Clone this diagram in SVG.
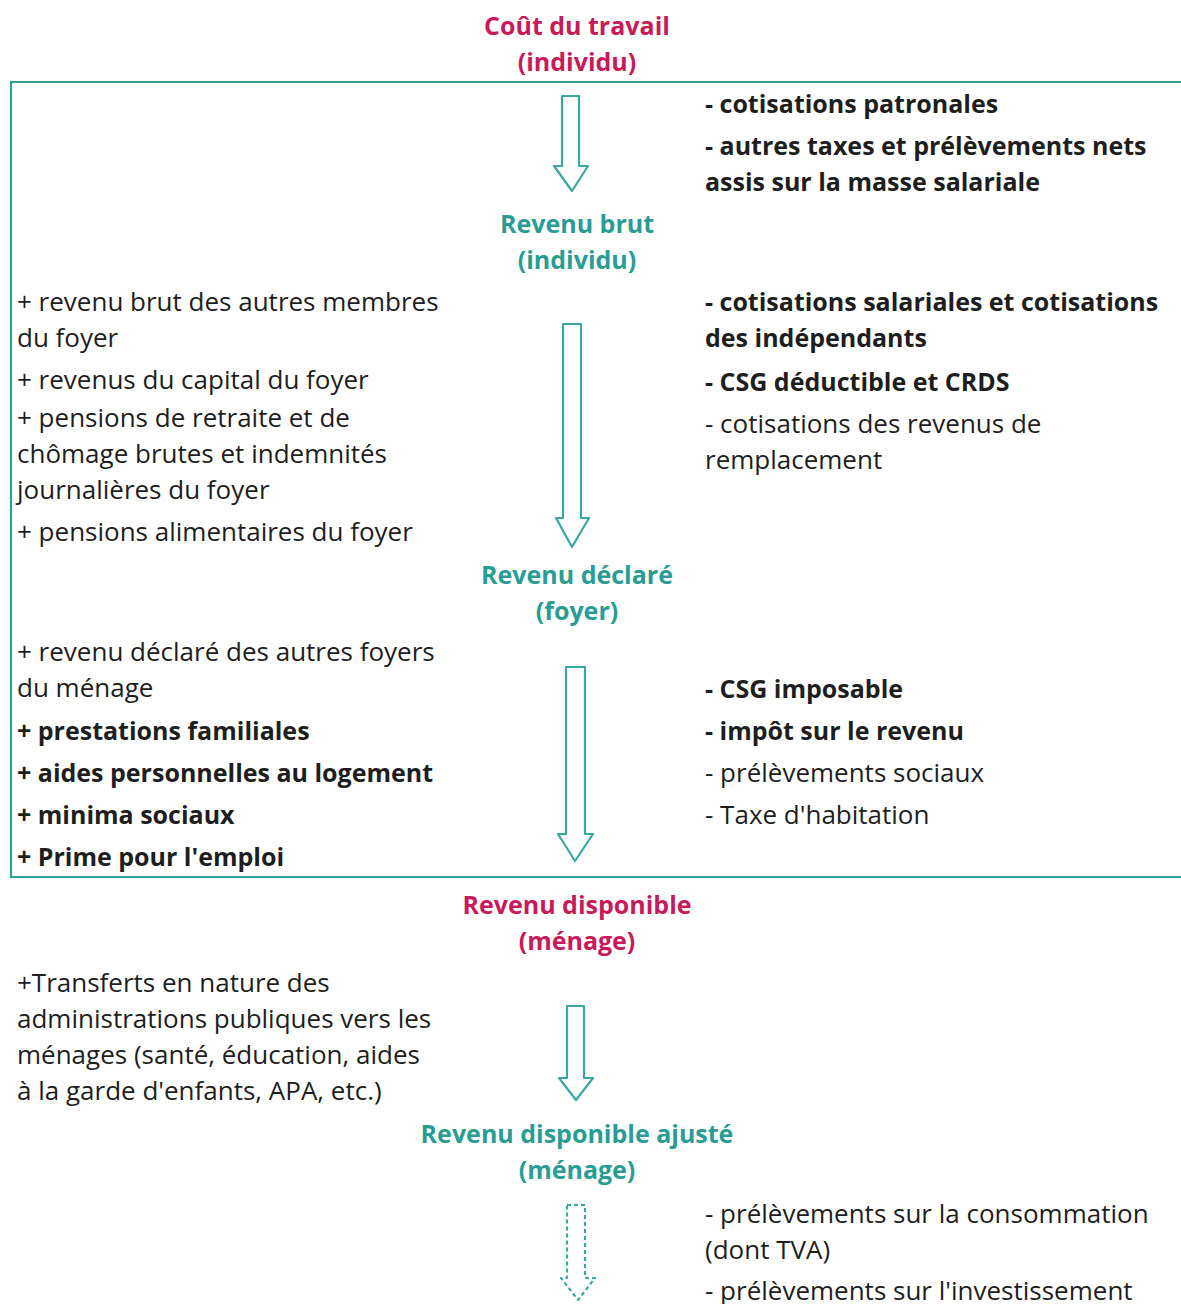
<svg xmlns="http://www.w3.org/2000/svg" width="1181" height="1304" viewBox="0 0 1181 1304">
<style>
text{font-family:"Open Sans","Noto Sans","Liberation Sans",sans-serif;font-size:26px;fill:#1e1e1e}
.b{font-weight:bold;font-size:25px}
.t{font-weight:bold;font-size:25px;text-anchor:middle}
.m{fill:#c81a5b}
.g{fill:#2a9c94}
.arr{fill:#fff;stroke:#3aa7a0;stroke-width:2.2;stroke-linejoin:round}
.dash{stroke-dasharray:4 3}
</style>
<rect x="0" y="0" width="1181" height="1304" fill="#fff"/>
<g id="frame"><path d="M1185 82 H11 V877 H1185" fill="none" stroke="#2f9f97" stroke-width="2.2"/></g>
<g id="connectors">
<polygon class="arr" points="562,96 579,96 579,166 588,166 572,191 554,166 562,166"/>
<polygon class="arr" points="563,324 581,324 581,518 589,518 572,547 556,518 563,518"/>
<polygon class="arr" points="566,667 585,667 585,834 593,834 575,861 558,834 566,834"/>
<polygon class="arr" points="567,1006 584,1006 584,1078 593,1078 576,1100 559,1078 567,1078"/>
<polygon class="arr dash" points="567,1205 585,1205 585,1278 595,1278 578,1300 561,1278 567,1278"/>
</g>
<g id="n-cout"><text class="t m" x="577" y="35">Coût du travail</text><text class="t m" x="577" y="71">(individu)</text></g>
<g id="n-brut"><text class="t g" x="577" y="233">Revenu brut</text><text class="t g" x="577" y="269">(individu)</text></g>
<g id="n-declare"><text class="t g" x="577" y="584">Revenu déclaré</text><text class="t g" x="577" y="620">(foyer)</text></g>
<g id="n-dispo"><text class="t m" x="577" y="914">Revenu disponible</text><text class="t m" x="577" y="950">(ménage)</text></g>
<g id="n-ajuste"><text class="t g" x="577" y="1143">Revenu disponible ajusté</text><text class="t g" x="577" y="1179">(ménage)</text></g>
<g id="right-1">
<text class="b" x="705" y="113">- cotisations patronales</text>
<text class="b" x="705" y="155">- autres taxes et prélèvements nets</text>
<text class="b" x="705" y="191">assis sur la masse salariale</text>
</g>
<g id="right-2">
<text class="b" x="705" y="311">- cotisations salariales et cotisations</text>
<text class="b" x="705" y="347">des indépendants</text>
<text class="b" x="705" y="391">- CSG déductible et CRDS</text>
<text x="705" y="433">- cotisations des revenus de</text>
<text x="705" y="469">remplacement</text>
</g>
<g id="left-2">
<text x="17" y="311">+ revenu brut des autres membres</text>
<text x="17" y="347">du foyer</text>
<text x="17" y="389">+ revenus du capital du foyer</text>
<text x="17" y="427">+ pensions de retraite et de</text>
<text x="17" y="463">chômage brutes et indemnités</text>
<text x="17" y="499">journalières du foyer</text>
<text x="17" y="541">+ pensions alimentaires du foyer</text>
</g>
<g id="left-3">
<text x="17" y="661">+ revenu déclaré des autres foyers</text>
<text x="17" y="697">du ménage</text>
<text class="b" x="17" y="740">+ prestations familiales</text>
<text class="b" x="17" y="782">+ aides personnelles au logement</text>
<text class="b" x="17" y="824">+ minima sociaux</text>
<text class="b" x="17" y="866">+ Prime pour l'emploi</text>
</g>
<g id="right-3">
<text class="b" x="705" y="698">- CSG imposable</text>
<text class="b" x="705" y="740">- impôt sur le revenu</text>
<text x="705" y="782">- prélèvements sociaux</text>
<text x="705" y="824">- Taxe d'habitation</text>
</g>
<g id="left-4">
<text x="17" y="992">+Transferts en nature des</text>
<text x="17" y="1028">administrations publiques vers les</text>
<text x="17" y="1064">ménages (santé, éducation, aides</text>
<text x="17" y="1100">à la garde d'enfants, APA, etc.)</text>
</g>
<g id="right-5">
<text x="705" y="1223">- prélèvements sur la consommation</text>
<text x="705" y="1259">(dont TVA)</text>
<text x="705" y="1300">- prélèvements sur l'investissement</text>
</g>
</svg>
